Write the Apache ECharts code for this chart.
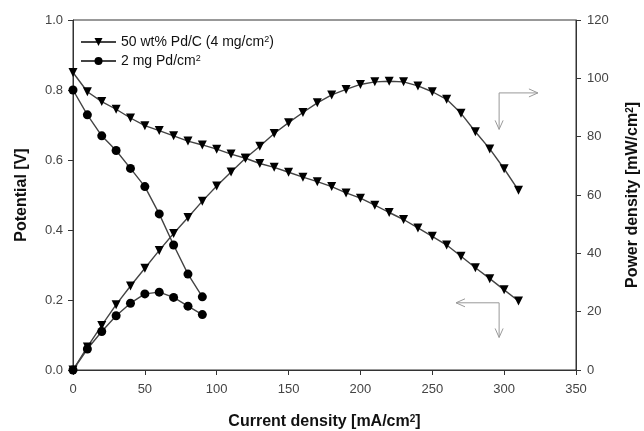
<!DOCTYPE html>
<html>
<head>
<meta charset="utf-8">
<script src="https://cdn.jsdelivr.net/npm/echarts@6/dist/echarts.min.js"></script>
<style>
  html, body { margin: 0; padding: 0; background: #fff; }
  #chart { width: 644px; height: 431px; }
</style>
</head>
<body>
<div id="chart"></div>
<script>
// current density [mA/cm2]
const currentPdC = [0, 10, 20, 30, 40, 50, 60, 70, 80, 90, 100, 110, 120, 130, 140, 150,
  160, 170, 180, 190, 200, 210, 220, 230, 240, 250, 260, 270, 280, 290, 300, 310];
const currentPd = [0, 10, 20, 30, 40, 50, 60, 70, 80, 90];

// 50 wt% Pd/C (4 mg/cm2)
const potentialPdC = [0.85, 0.795, 0.767, 0.745, 0.72, 0.698, 0.684, 0.669, 0.654, 0.643,
  0.631, 0.617, 0.605, 0.59, 0.579, 0.565, 0.551, 0.538, 0.524, 0.506, 0.491, 0.471,
  0.45, 0.43, 0.406, 0.382, 0.357, 0.325, 0.292, 0.261, 0.229, 0.197];
const powerPdC = [0, 7.9, 15.3, 22.4, 28.8, 34.9, 41.0, 46.8, 52.3, 57.9, 63.1, 67.9,
  72.6, 76.7, 81.1, 84.8, 88.3, 91.6, 94.3, 96.2, 97.9, 98.8, 99.0, 98.8, 97.4, 95.4,
  92.8, 88.0, 81.7, 75.8, 69.0, 61.6];

// 2 mg Pd/cm2
const potentialPd = [0.80, 0.729, 0.669, 0.627, 0.576, 0.524, 0.446, 0.357, 0.274, 0.209];
const powerPd = [0, 7.2, 13.2, 18.6, 22.9, 26.1, 26.7, 24.9, 21.9, 19.0];

const nameA = '50 wt% Pd/C (4 mg/cm2)';
const nameB = '2 mg Pd/cm2';
const legendText = {
  [nameA]: '{a|50 wt% Pd/C (4 mg/cm}{s|2}{a|)}',
  [nameB]: '{a|2 mg Pd/cm}{s|2}'
};

const pair = (xs, ys) => xs.map((x, i) => [x, ys[i]]);

const chart = echarts.init(document.getElementById('chart'));
const font = 'Liberation Sans, Arial, sans-serif';
const axisLine = { lineStyle: { color: '#333', width: 1 } };
const axisTick = { inside: false, length: 5, lineStyle: { color: '#333' } };
const axisLabel = { color: '#444', fontSize: 13, fontFamily: font };
const nameStyle = {
  fontFamily: font,
  rich: {
    b: { fontSize: 16, fontWeight: 'bold', color: '#111', fontFamily: font },
    s: { fontSize: 10, fontWeight: 'bold', color: '#111', fontFamily: font, verticalAlign: 'top' }
  }
};

const lineStyle = { color: '#444', width: 1.4 };
const itemStyle = { color: '#000' };

chart.setOption({
  animation: false,
  textStyle: { fontFamily: font },
  grid: { left: 73, right: 68, top: 20, bottom: 61, outerBoundsMode: 'none',
    show: true, borderColor: '#333', borderWidth: 1 },
  legend: {
    orient: 'vertical', left: 75, top: 30, itemGap: 5, itemWidth: 35, itemHeight: 10,
    formatter: n => legendText[n],
    textStyle: {
      fontFamily: font,
      rich: {
        a: { fontSize: 14, color: '#111', fontFamily: font },
        s: { fontSize: 9, color: '#111', fontFamily: font, verticalAlign: 'top' }
      }
    },
    data: [nameA, nameB]
  },
  xAxis: {
    type: 'value', min: 0, max: 350, interval: 50,
    axisLine, axisTick, axisLabel: { ...axisLabel, margin: 13 },
    splitLine: { show: false },
    name: '{b|Current density [mA/cm}{s|2}{b|]}', nameLocation: 'middle', nameGap: 44,
    nameTextStyle: nameStyle
  },
  yAxis: [
    {
      type: 'value', min: 0, max: 1, interval: 0.2, position: 'left',
      axisLine: { show: true, ...axisLine }, axisTick,
      axisLabel: { ...axisLabel, margin: 10, formatter: v => v.toFixed(1) },
      splitLine: { show: false },
      name: '{b|Potential [V]}', nameLocation: 'middle', nameGap: 43,
      nameTextStyle: nameStyle
    },
    {
      type: 'value', min: 0, max: 120, interval: 20, position: 'right',
      axisLine: { show: true, ...axisLine }, axisTick, axisLabel: { ...axisLabel, margin: 11 },
      splitLine: { show: false },
      name: '{b|Power density [mW/cm}{s|2}{b|]}', nameLocation: 'middle', nameGap: 49,
      nameTextStyle: nameStyle
    }
  ],
  series: [
    { name: nameA, type: 'line', yAxisIndex: 0, data: pair(currentPdC, potentialPdC),
      symbol: 'triangle', symbolRotate: 180, symbolSize: 9, lineStyle, itemStyle },
    { name: nameA, type: 'line', yAxisIndex: 1, data: pair(currentPdC, powerPdC),
      symbol: 'triangle', symbolRotate: 180, symbolSize: 9, lineStyle, itemStyle },
    { name: nameB, type: 'line', yAxisIndex: 0, data: pair(currentPd, potentialPd),
      symbol: 'circle', symbolSize: 9, lineStyle, itemStyle },
    { name: nameB, type: 'line', yAxisIndex: 1, data: pair(currentPd, powerPd),
      symbol: 'circle', symbolSize: 9, lineStyle, itemStyle }
  ]
});

// gray L-shaped arrows pointing to the axis each curve group belongs to
function arrowShapes(corner, horizEnd, vertEnd) {
  const gray = { stroke: '#999', lineWidth: 1, fill: null };
  const dx = horizEnd[0] > corner[0] ? -1 : 1;
  const h = 9, w = 4;
  return [
    { type: 'polyline', shape: { points: [horizEnd, corner, vertEnd] }, style: gray, silent: true },
    { type: 'polyline', shape: { points: [[horizEnd[0] + dx * h, horizEnd[1] - w], horizEnd, [horizEnd[0] + dx * h, horizEnd[1] + w]] }, style: gray, silent: true },
    { type: 'polyline', shape: { points: [[vertEnd[0] - w, vertEnd[1] - h], vertEnd, [vertEnd[0] + w, vertEnd[1] - h]] }, style: gray, silent: true }
  ];
}
const toPx = (x, y, idx) => chart.convertToPixel({ xAxisIndex: 0, yAxisIndex: idx }, [x, y]);
const upperCorner = toPx(296.5, 95, 1);
const upper = arrowShapes(upperCorner, toPx(323.5, 95, 1), toPx(296.5, 82.5, 1));
const lowerCorner = toPx(296.5, 0.192, 0);
const lower = arrowShapes(lowerCorner, toPx(266.5, 0.192, 0), toPx(296.5, 0.093, 0));
chart.setOption({ graphic: upper.concat(lower) });
</script>
</body>
</html>
